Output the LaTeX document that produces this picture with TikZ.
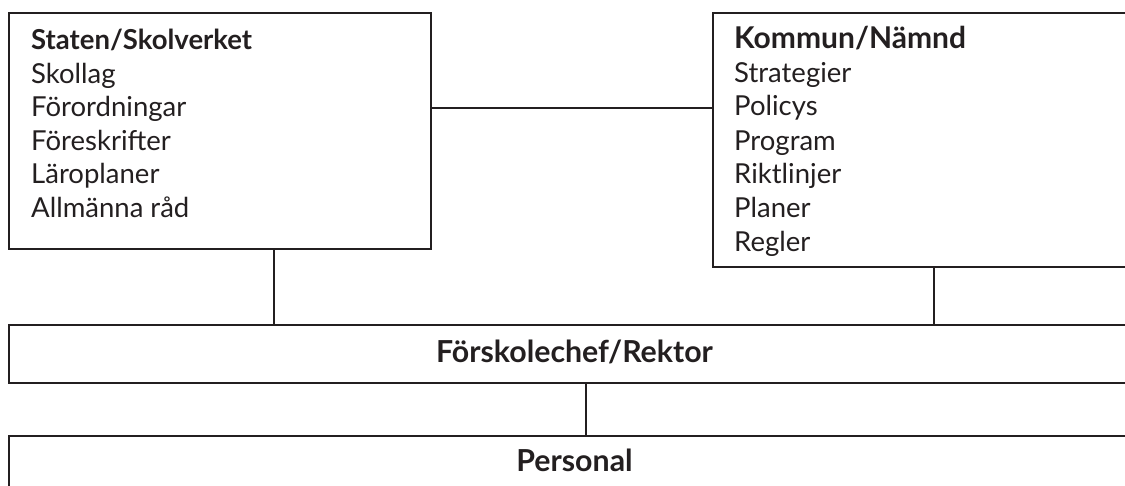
\documentclass[tikz,border=0pt]{standalone}
\usepackage{fontspec}
\setmainfont{Lato}
\definecolor{ink}{HTML}{231F20}
\begin{document}
\begin{tikzpicture}[x=1pt,y=-1pt,
  box/.style={draw=ink,line width=2pt,rectangle,inner sep=0pt,outer sep=0pt},
  conn/.style={draw=ink,line width=1.4pt},
  txt/.style={inner sep=0pt,anchor=base west,text=ink,font=\fontsize{27.5}{33}\selectfont},
  hdr/.style={txt,font=\fontsize{27.5}{33}\selectfont\bfseries},
  widehdr/.style={txt,font=\fontsize{30}{36}\selectfont\bfseries},
  ctr/.style={inner sep=0pt,anchor=base,text=ink,font=\fontsize{30.3}{36}\selectfont\bfseries}]
\useasboundingbox (0,0) rectangle (1125,485);
\clip (0,0) rectangle (1125,485);
% boxes
\node[box,minimum width=422pt,minimum height=236pt] (stat) at (220,131) {};
\node[box,minimum width=427pt,minimum height=254pt] (komm) at (926.5,140) {};
\node[box,minimum width=1131pt,minimum height=58pt] (fors) at (574.5,354) {};
\node[box,minimum width=1131pt,minimum height=64pt] (pers) at (574.5,468) {};
% left texts
\node[hdr] (s0) at (31,49) {Staten/Skolverket};
\node[txt] (s1) at (31,83) {Skollag};
\node[txt] (s2) at (31,116) {Förordningar};
\node[txt] (s3) at (31,150) {Föreskrifter};
\node[txt] (s4) at (31,183) {Läroplaner};
\node[txt] (s5) at (31,217) {Allmänna råd};
% right texts
\node[widehdr] (k0) at (734,48) {Kommun/Nämnd};
\node[txt] (k1) at (734,82) {Strategier};
\node[txt] (k2) at (734,115) {Policys};
\node[txt] (k3) at (734,150) {Program};
\node[txt] (k4) at (734,183) {Riktlinjer};
\node[txt] (k5) at (734,217) {Planer};
\node[txt] (k6) at (734,251) {Regler};
% centred texts
\node[ctr] (f0) at (574.5,362) {Förskolechef/Rektor};
\node[ctr] (p0) at (574.5,471) {Personal};
% connectors
\coordinate (hy) at (0,108);
\coordinate (v1) at (274,0);
\coordinate (v2) at (934,0);
\coordinate (v3) at (586,0);
\draw[conn] (stat.east |- hy) -- (komm.west |- hy);
\draw[conn] (stat.south -| v1) -- (fors.north -| v1);
\draw[conn] (komm.south -| v2) -- (fors.north -| v2);
\draw[conn] (fors.south -| v3) -- (pers.north -| v3);
\end{tikzpicture}
\end{document}
